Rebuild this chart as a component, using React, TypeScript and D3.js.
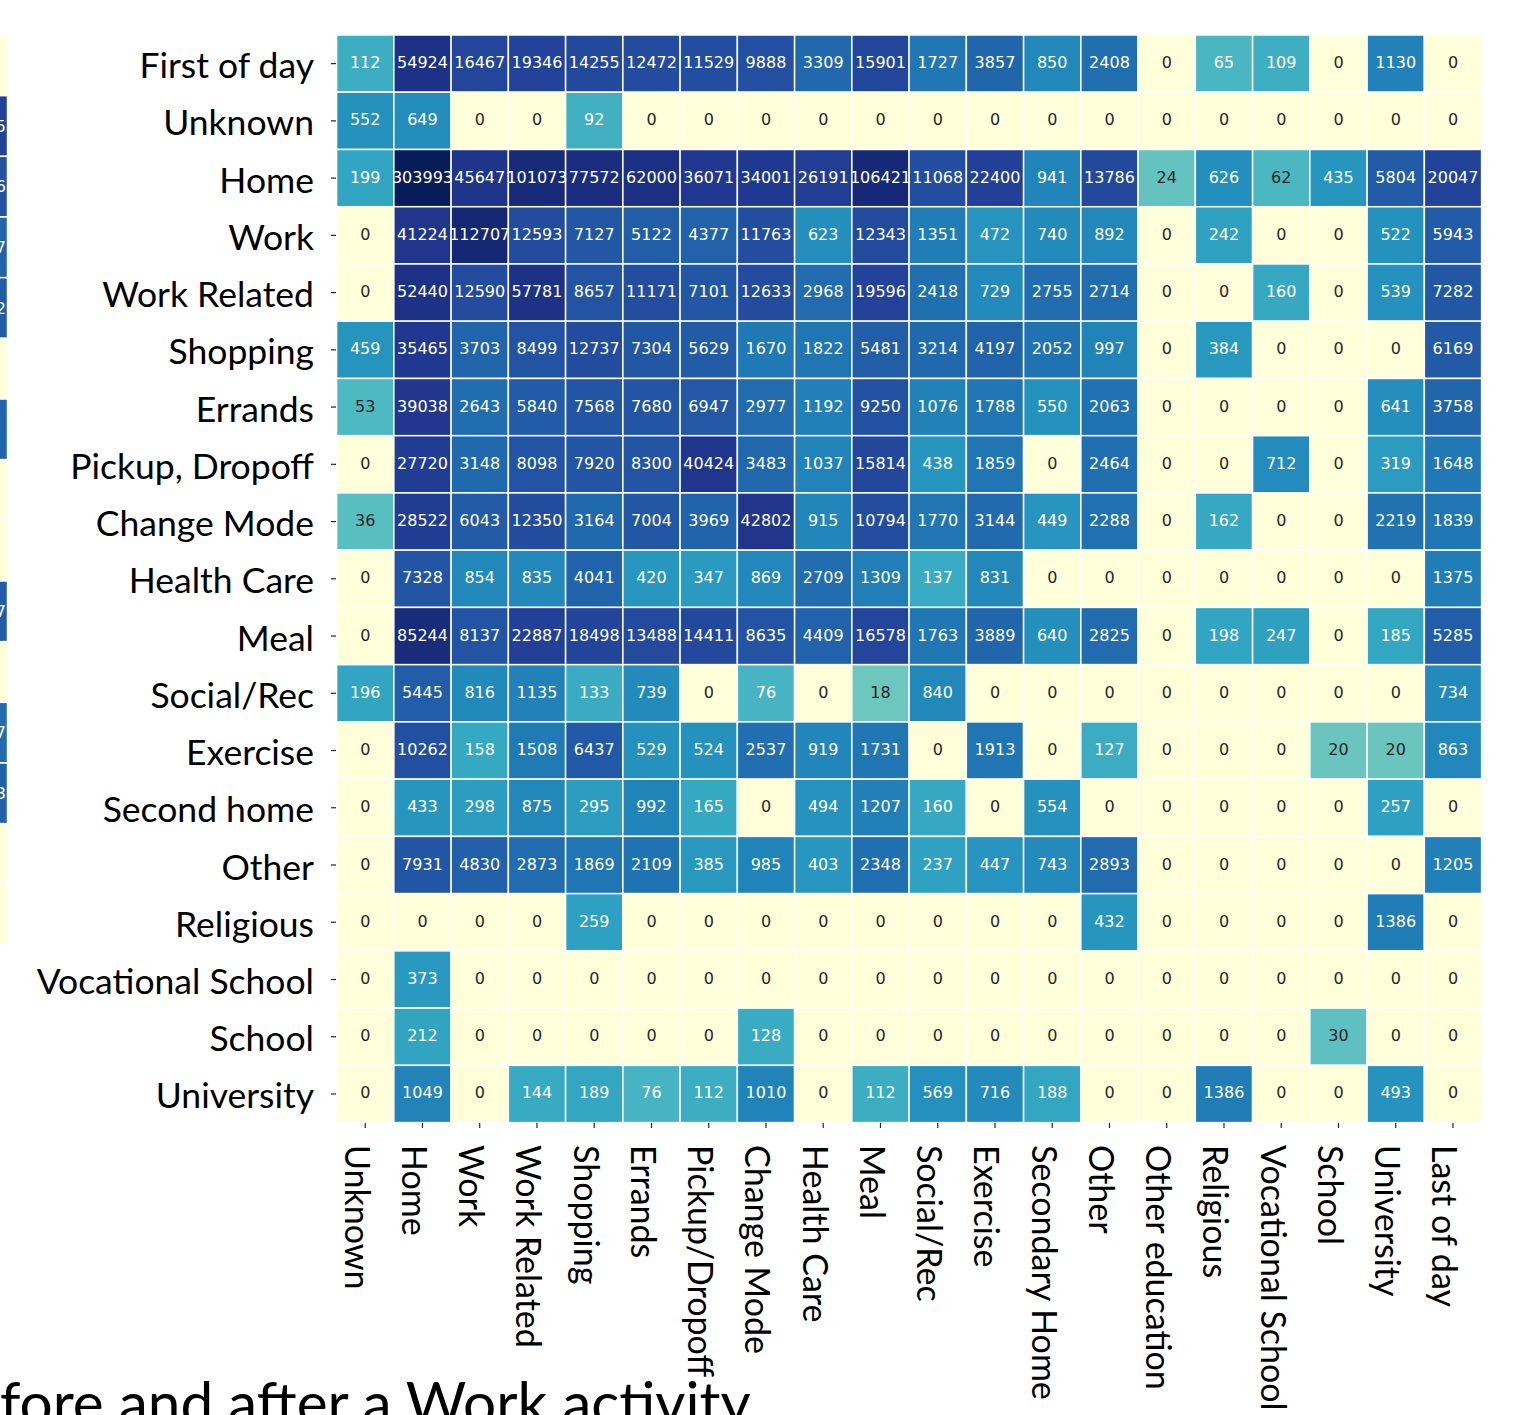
import React from "react";
import * as d3 from "d3";

const colLabels = [
  "Unknown", "Home", "Work", "Work Related", "Shopping", "Errands", "Pickup/Dropoff",
  "Change Mode", "Health Care", "Meal", "Social/Rec", "Exercise", "Secondary Home",
  "Other", "Other education", "Religious", "Vocational School", "School", "University", "Last of day",
];

const rowLabels = [
  "First of day", "Unknown", "Home", "Work", "Work Related", "Shopping", "Errands",
  "Pickup, Dropoff", "Change Mode", "Health Care", "Meal", "Social/Rec", "Exercise",
  "Second home", "Other", "Religious", "Vocational School", "School", "University",
];

const firstOfDay = [112, 54924, 16467, 19346, 14255, 12472, 11529, 9888, 3309, 15901, 1727, 3857, 850, 2408, 0, 65, 109, 0, 1130, 0];
const unknownRow = [552, 649, 0, 0, 92, 0, 0, 0, 0, 0, 0, 0, 0, 0, 0, 0, 0, 0, 0, 0];
const homeRow = [199, 303993, 45647, 101073, 77572, 62000, 36071, 34001, 26191, 106421, 11068, 22400, 941, 13786, 24, 626, 62, 435, 5804, 20047];
const workRow = [0, 41224, 112707, 12593, 7127, 5122, 4377, 11763, 623, 12343, 1351, 472, 740, 892, 0, 242, 0, 0, 522, 5943];
const workRelatedRow = [0, 52440, 12590, 57781, 8657, 11171, 7101, 12633, 2968, 19596, 2418, 729, 2755, 2714, 0, 0, 160, 0, 539, 7282];
const shoppingRow = [459, 35465, 3703, 8499, 12737, 7304, 5629, 1670, 1822, 5481, 3214, 4197, 2052, 997, 0, 384, 0, 0, 0, 6169];
const errandsRow = [53, 39038, 2643, 5840, 7568, 7680, 6947, 2977, 1192, 9250, 1076, 1788, 550, 2063, 0, 0, 0, 0, 641, 3758];
const pickupRow = [0, 27720, 3148, 8098, 7920, 8300, 40424, 3483, 1037, 15814, 438, 1859, 0, 2464, 0, 0, 712, 0, 319, 1648];
const changeModeRow = [36, 28522, 6043, 12350, 3164, 7004, 3969, 42802, 915, 10794, 1770, 3144, 449, 2288, 0, 162, 0, 0, 2219, 1839];
const healthCareRow = [0, 7328, 854, 835, 4041, 420, 347, 869, 2709, 1309, 137, 831, 0, 0, 0, 0, 0, 0, 0, 1375];
const mealRow = [0, 85244, 8137, 22887, 18498, 13488, 14411, 8635, 4409, 16578, 1763, 3889, 640, 2825, 0, 198, 247, 0, 185, 5285];
const socialRecRow = [196, 5445, 816, 1135, 133, 739, 0, 76, 0, 18, 840, 0, 0, 0, 0, 0, 0, 0, 0, 734];
const exerciseRow = [0, 10262, 158, 1508, 6437, 529, 524, 2537, 919, 1731, 0, 1913, 0, 127, 0, 0, 0, 20, 20, 863];
const secondHomeRow = [0, 433, 298, 875, 295, 992, 165, 0, 494, 1207, 160, 0, 554, 0, 0, 0, 0, 0, 257, 0];
const otherRow = [0, 7931, 4830, 2873, 1869, 2109, 385, 985, 403, 2348, 237, 447, 743, 2893, 0, 0, 0, 0, 0, 1205];
const religiousRow = [0, 0, 0, 0, 259, 0, 0, 0, 0, 0, 0, 0, 0, 432, 0, 0, 0, 0, 1386, 0];
const vocationalRow = [0, 373, 0, 0, 0, 0, 0, 0, 0, 0, 0, 0, 0, 0, 0, 0, 0, 0, 0, 0];
const schoolRow = [0, 212, 0, 0, 0, 0, 0, 128, 0, 0, 0, 0, 0, 0, 0, 0, 0, 30, 0, 0];
const universityRow = [0, 1049, 0, 144, 189, 76, 112, 1010, 0, 112, 569, 716, 188, 0, 0, 1386, 0, 0, 493, 0];

const matrix = [
  firstOfDay, unknownRow, homeRow, workRow, workRelatedRow, shoppingRow, errandsRow,
  pickupRow, changeModeRow, healthCareRow, mealRow, socialRecRow, exerciseRow,
  secondHomeRow, otherRow, religiousRow, vocationalRow, schoolRow, universityRow,
];

// partially visible right edge of a neighbouring heatmap on the slide
const stripValues = [0, 20000, 9000, 4000, 6000, 0, 4000, 0, 0, 6000, 0, 3000, 4500, 0, 0];
const stripLabels = ["", "5", "6", "7", "2", "", "", "", "", "7", "", "7", "3", "", ""];

const titleText = "fore and after a Work activity";

const W = 1521;
const H = 1415;
const LABEL_FONT = "Lato, 'Open Sans', sans-serif";

export default function App() {
  const x = d3.scaleBand<string>().domain(colLabels).range([336.6, 1481.6]);
  const y = d3.scaleBand<string>().domain(rowLabels).range([35, 1122.6]);
  const logT = d3.scaleLog().domain([0.02, 303993]).range([0, 1]).clamp(true);
  const color = (v: number) => d3.interpolateYlGnBu(logT(v + 0.02));

  const stripY = d3.scaleBand<number>().domain(d3.range(stripValues.length)).range([35, 945]);

  const bw = x.bandwidth();
  const bh = y.bandwidth();

  return (
    <div style={{ position: "absolute", left: 0, top: 0 }}>
      <svg width={W} height={H} style={{ display: "block", background: "#fff" }}>
        <rect x={0} y={0} width={W} height={H} fill="#fff" />
        {/* neighbour strip */}
        <g>
          {stripValues.map((v, i) => (
            <g key={"s" + i}>
              <rect x={-50} y={stripY(i)!} width={57.5} height={stripY.bandwidth()} fill={color(v)} stroke="#fff" strokeWidth={1.5} />
              {stripLabels[i] && (
                <text x={6} y={stripY(i)! + stripY.bandwidth() / 2} textAnchor="end" dominantBaseline="central"
                  fontFamily="'DejaVu Sans', sans-serif" fontSize={16} fill="#fff">{"00" + stripLabels[i]}</text>
              )}
            </g>
          ))}
        </g>
        {/* cells */}
        <g>
          {matrix.map((row, ri) =>
            row.map((v, ci) => (
              <rect key={`c${ri}-${ci}`} x={x(colLabels[ci])!} y={y(rowLabels[ri])!} width={bw} height={bh}
                fill={color(v)} stroke="#fff" strokeWidth={1.5} />
            ))
          )}
        </g>
        {/* annotations */}
        <g fontFamily="'DejaVu Sans', sans-serif" fontSize={16}>
          {matrix.map((row, ri) =>
            row.map((v, ci) => (
              <text key={`t${ri}-${ci}`} x={x(colLabels[ci])! + bw / 2} y={y(rowLabels[ri])! + bh / 2 - 1}
                textAnchor="middle" dominantBaseline="central" fill={v < 64 ? "#262626" : "#ffffff"}>
                {v}
              </text>
            ))
          )}
        </g>
        {/* y axis */}
        <g>
          {rowLabels.map((r) => {
            const cy = y(r)! + bh / 2;
            return (
              <g key={"y" + r}>
                <line x1={331} x2={336} y1={cy} y2={cy} stroke="#262626" strokeWidth={1.2} />
                <text x={314} y={cy + 1} textAnchor="end" dominantBaseline="central" fontFamily={LABEL_FONT}
                  fontSize={35.5} fill="#000">{r}</text>
              </g>
            );
          })}
        </g>
        {/* x axis */}
        <g>
          {colLabels.map((c) => {
            const cx = x(c)! + bw / 2;
            return (
              <g key={"x" + c}>
                <line x1={cx} x2={cx} y1={1123} y2={1128} stroke="#262626" strokeWidth={1.2} />
                <text transform={`translate(${cx - 7},1145) rotate(90)`} textAnchor="start" dominantBaseline="central"
                  fontFamily={LABEL_FONT} fontSize={34} fill="#000">{c}</text>
              </g>
            );
          })}
        </g>
        <text x={0} y={1424} fontFamily={LABEL_FONT} fontSize={58.5} fill="#000">{titleText}</text>
      </svg>
    </div>
  );
}
